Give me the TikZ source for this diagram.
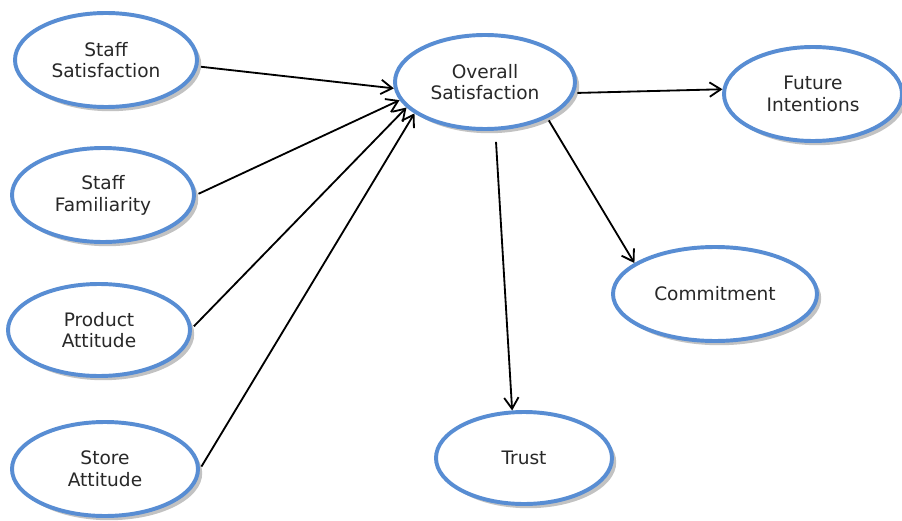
\documentclass[tikz,border=0pt]{standalone}
\usepackage{fontspec}
\setmainfont{DejaVu Sans}
\usetikzlibrary{arrows.meta,shadows,shapes.geometric}
\definecolor{ringblue}{RGB}{88,141,211}
\definecolor{labelgray}{RGB}{40,40,40}

\begin{document}
\begin{tikzpicture}[>={Straight Barb[length=2.8mm,width=3.6mm]},
        construct/.style={draw=ringblue,line width=2.8pt,ellipse,fill=white,
            minimum width=4.55cm,minimum height=2.35cm,align=center,
            text=labelgray,font=\fontsize{13.2}{15.5}\selectfont,
            drop shadow={shadow xshift=3pt,shadow yshift=-3pt,opacity=0.4,fill=black!60}},
        path/.style={->,line width=1.3pt,shorten <=2pt}]
        \useasboundingbox (0,0) rectangle (22.55,-13.025);

        % antecedents on the left
        \node[construct] (ss) at (2.65,-1.5) {Staff\\Satisfaction};
        \node[construct] (sf) at (2.575,-4.875) {Staff\\Familiarity};
        \node[construct,minimum height=2.3cm] (pa) at (2.475,-8.25) {Product\\Attitude};
        \node[construct,minimum width=4.65cm] (sa) at (2.625,-11.725) {Store\\Attitude};

        % central construct and outcomes
        \node[construct,minimum width=4.5cm] (os) at (12.125,-2.05) {Overall\\Satisfaction};
        \node[construct,minimum width=4.45cm] (fi) at (20.325,-2.35) {Future\\Intentions};
        \node[construct,minimum width=5.1cm] (com) at (17.875,-7.35) {Commitment};
        \node[construct,minimum width=4.4cm,minimum height=2.3cm] (tr) at (13.1,-11.45) {Trust};

        \draw[path] (ss.-4) -- (os.184);
        \draw[path] (sf.0) -- (os.192);
        \draw[path] (pa.1) -- (os.198);
        \draw[path] (sa.0) -- (os.204);

        \draw[path] (os.-7) -- (fi.177);
        \draw[path] (os.-30) -- (com.159);
        \draw[path,shorten <=8pt] (os.-78) -- (tr.104);
    \end{tikzpicture}
\end{document}
